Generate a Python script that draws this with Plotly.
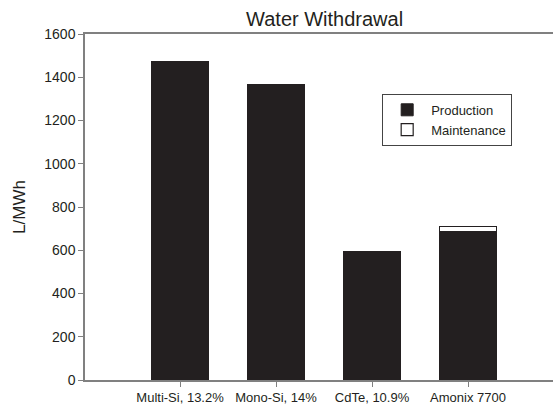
import plotly.graph_objects as go

categories = ["Multi-Si, 13.2%", "Mono-Si, 14%", "CdTe, 10.9%", "Amonix 7700"]
production = [1473, 1366, 596, 684]
maintenance = [None, None, None, 27]
y_ticks = [0, 200, 400, 600, 800, 1000, 1200, 1400, 1600]

DARK = "#231f20"
AXIS = "#808080"
FONT = "Liberation Sans, Arial, Helvetica, sans-serif"

x_pos = list(range(len(categories)))

fig = go.Figure()
fig.add_trace(go.Bar(
    x=x_pos, y=production, name="Production", width=0.6,
    marker=dict(color=DARK, line=dict(color=DARK, width=1)),
))
fig.add_trace(go.Bar(
    x=x_pos, y=maintenance, name="Maintenance", width=0.6,
    marker=dict(color="white", line=dict(color=DARK, width=1.2)),
))

fig.update_layout(
    width=553, height=404,
    barmode="stack",
    plot_bgcolor="white", paper_bgcolor="white",
    margin=dict(l=85, r=0, t=34, b=24),
    font=dict(family=FONT, color=DARK),
    title=dict(text="Water Withdrawal", font=dict(size=20, color=DARK),
               x=0.587, xanchor="center", xref="container",
               y=1 - 19 / 404, yanchor="middle", yref="container"),
    showlegend=True,
    legend=dict(x=0.635, y=0.827, xanchor="left", yanchor="top",
                bordercolor="#444444", borderwidth=1, bgcolor="white",
                itemwidth=38,
                font=dict(size=13, color=DARK), traceorder="normal"),
    xaxis=dict(
        range=[-0.99, 3.885], tickmode="array", tickvals=x_pos, ticktext=categories,
        showline=True, linecolor=AXIS, linewidth=1.5, mirror=True,
        ticks="outside", ticklen=5, tickcolor=AXIS, tickwidth=1,
        tickfont=dict(size=13, color=DARK), showgrid=False, zeroline=False,
        automargin=False,
    ),
    yaxis=dict(
        range=[0, 1600], tickmode="array", tickvals=y_ticks,
        showline=True, linecolor=AXIS, linewidth=1.5,
        ticks="outside", ticklen=5, tickcolor=AXIS, tickwidth=1,
        tickfont=dict(size=14, color=DARK), showgrid=False, zeroline=False,
        title=dict(text="L/MWh", font=dict(size=17, color=DARK), standoff=14),
        automargin=False,
    ),
)

fig.write_html(
    "out.html",
    config={"displayModeBar": False},
    post_script="document.body.style.margin='0';document.body.style.overflow='hidden';",
)
